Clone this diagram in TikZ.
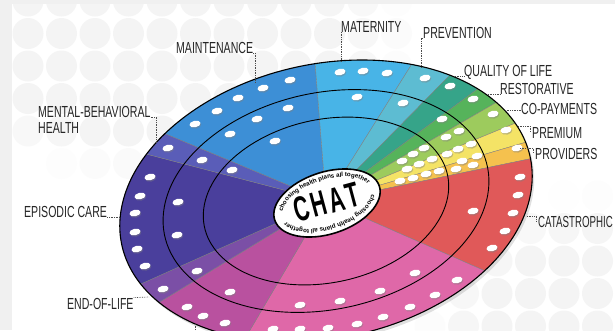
\documentclass[tikz,border=0pt]{standalone}
\usepackage{fontspec}
\usepackage{tikz}
\usetikzlibrary{calc, positioning, decorations.text}
\newfontfamily\lblfont[FakeStretch=0.66]{Liberation Sans}
\newfontfamily\chatfont[FakeStretch=0.6]{Liberation Sans}
\newfontfamily\ringfont{Liberation Sans}
\definecolor{maintenance}{HTML}{3D8FD6}
\definecolor{mental}{HTML}{5A5DB8}
\definecolor{episodic}{HTML}{4A3F9C}
\definecolor{endoflife}{HTML}{7B4FA6}
\definecolor{magentaseg}{HTML}{B9519F}
\definecolor{pinkseg}{HTML}{DF68A8}
\definecolor{catastrophic}{HTML}{E05959}
\definecolor{providers}{HTML}{F5C14E}
\definecolor{premium}{HTML}{F4E366}
\definecolor{copay}{HTML}{9DCB5D}
\definecolor{restorative}{HTML}{56B35B}
\definecolor{qol}{HTML}{36A489}
\definecolor{prevention}{HTML}{5DBCD2}
\definecolor{maternity}{HTML}{48B4E7}

\begin{document}
\begin{tikzpicture}[x=1pt, y=-1pt,
    leader/.style={densely dotted, line width=0.7pt, black!70},
    ring/.style={line width=0.9pt, black},
    sector/.style={draw=black!50, line width=0.35pt},
    pill/.style={white, rotate=12}]
  \tikzstyle{lbl}=[font=\lblfont\fontsize{16}{18}\selectfont, text=black!85, inner sep=0pt]
  \useasboundingbox (0,0) rectangle (615,330);
  \clip (0,0) rectangle (615,330);
  \fill[white] (0,0) rectangle (615,330);
  % background dots
  \foreach \i in {0,...,18}
    \foreach \j in {0,...,10} {
      \pgfmathsetmacro\cx{28+33.5*\i}
      \pgfmathsetmacro\cy{1+32.5*\j}
      \pgfmathsetmacro\wa{1-((\cx-160)/260)*((\cx-160)/260)-((\cy-40)/140)*((\cy-40)/140)}
      \pgfmathsetmacro\wb{1-((\cx-600)/180)*((\cx-600)/180)-((\cy-330)/140)*((\cy-330)/140)}
      \pgfmathsetmacro\wt{min(0.38,0.7*max(0,max(\wa,\wb)))}
      \fill[gray!22, opacity=\wt] (\cx,\cy) circle[radius=15.5pt];
    }
  \fill[black!6] (0,0) rectangle (12,330);
  \fill[black!6] (12,0) rectangle (615,4);

  \coordinate (O) at (326,201);
  \foreach \n/\px/\py in {1/315/62, 2/410/67, 3/448/77, 4/479/88, 5/497/102, 6/518/122, 7/530/141,
      8/534/158, 9/483/270, 10/250/330, 11/163/300, 12/143/283, 13/150/155, 14/168/135}
    \coordinate (b\n) at ($(O)!2.5!(\px,\py)$);

  % wheel
  \fill[black, opacity=0.12, shift={(328,204)}, xslant=0.256] (0,0) ellipse[x radius=203pt, y radius=141pt];
  \begin{scope}
    \clip[shift={(O)}, xslant=0.256] (0,0) ellipse[x radius=203pt, y radius=141pt];
    \foreach \a/\b/\c in {b14/b1/maintenance, b1/b2/maternity, b2/b3/prevention, b3/b4/qol,
        b4/b5/restorative, b5/b6/copay, b6/b7/premium, b7/b8/providers, b8/b9/catastrophic,
        b9/b10/pinkseg, b10/b11/magentaseg, b11/b12/endoflife, b12/b13/episodic, b13/b14/mental}
      \fill[fill=\c, sector] (O) -- (\a) -- (\b) -- cycle;
  \end{scope}
  \begin{scope}[shift={(O)}, xslant=0.256]
    \draw[ring] (0,0) ellipse[x radius=160.4pt, y radius=111.4pt];
    \draw[ring] (0,0) ellipse[x radius=120.8pt, y radius=83.9pt];
    \draw[ring, line width=1.1pt] (0,0) ellipse[x radius=203pt, y radius=141pt];
  \end{scope}

  % white pills
  \foreach \x/\y in {340/72, 363/71, 387/73, 425/78, 450/86, 473/99, 493/114, 506/130, 517/148,
      520/177, 518/195, 513/213, 505/231, 492/248, 457/280, 435/295, 410/307, 383/317, 357/324,
      328/328, 300/329, 273/329, 225/323, 203/316, 187/307, 163/289, 145/266, 137/249, 135/232,
      135/213, 140/196, 150/177, 168/148, 195/124, 217/111, 238/98, 263/88, 290/80,
      357/97, 403/103, 442/119, 446/137, 459/131, 471/144, 458/149, 447/154, 477/156, 462/161,
      473/165, 456/169, 473/211, 415/273, 380/291, 340/301, 300/305, 230/292, 197/271, 177/235,
      178/202, 202/160, 230/134, 257/119, 288/108,
      275/141, 232/170, 424/148, 413/154, 402/161, 432/159, 419/164, 407/169, 439/171, 426/174,
      413/178, 400/181} {
    \fill[shift={(\x+0.8,\y+1.3)}, pill, black!50, opacity=0.45] (0,0) ellipse[x radius=5.6pt, y radius=3.3pt];
    \fill[shift={(\x,\y)}, pill] (0,0) ellipse[x radius=5.6pt, y radius=3.3pt];
  }

  % CHAT badge
  \begin{scope}[shift={(327,203)}, rotate=18]
    \filldraw[fill=white, draw=black, line width=1.6pt] (0,0) ellipse[x radius=55pt, y radius=31pt];
    \path[decorate, decoration={text along path, text align=center,
        text={|\ringfont\bfseries\fontsize{6.2}{7}\selectfont|choosing health plans all together}}]
      (180:46pt and 23pt) arc[start angle=180, end angle=0, x radius=46pt, y radius=23pt];
    \path[decorate, decoration={text along path, text align=center,
        text={|\ringfont\bfseries\fontsize{6.2}{7}\selectfont|choosing health plans all together}}]
      (0:46pt and 23pt) arc[start angle=0, end angle=-180, x radius=46pt, y radius=23pt];
    \node[font=\chatfont\bfseries\fontsize{35}{35}\selectfont, inner sep=0pt, rotate=15] (chat) at (0,-1) {C\kern3pt H\kern3pt A\kern3pt T};
  \end{scope}

  % labels
  \node[lbl, anchor=base west] (maint) at (176,53) {MAINTENANCE};
  \node[lbl, anchor=base west] (mental) at (38,117) {MENTAL-BEHAVIORAL};
  \node[lbl, below=4.5pt of mental.south west, anchor=north west] (health) {HEALTH};
  \node[lbl, anchor=base west] (matern) at (341,32) {MATERNITY};
  \node[lbl, anchor=base west] (prev) at (423,38) {PREVENTION};
  \node[lbl, anchor=base west] (qol) at (464,76) {QUALITY OF LIFE};
  \node[lbl, anchor=base west] (rest) at (500,94) {RESTORATIVE};
  \node[lbl, anchor=base west] (copay) at (521,114) {CO-PAYMENTS};
  \node[lbl, anchor=base west] (prem) at (532,138) {PREMIUM};
  \node[lbl, anchor=base west] (prov) at (535,159) {PROVIDERS};
  \node[lbl, anchor=base west, xscale=0.92] (cata) at (538,227) {CATASTROPHIC};
  \node[lbl, anchor=base west] (epis) at (24,217) {EPISODIC CARE};
  \node[lbl, anchor=base west] (eol) at (67,309) {END-OF-LIFE};

  \coordinate (maintrim) at (255,82);
  \coordinate (mentalrim) at (156,143);
  \coordinate (materrim) at (341,62);
  \coordinate (prevrim) at (421,68);
  \coordinate (qolrim) at (455,76);
  \coordinate (restrim) at (488,94);
  \coordinate (copayrim) at (505,110);
  \coordinate (premrim) at (518,126);
  \coordinate (provrim) at (520,148);
  \coordinate (catarim) at (527,216);
  \coordinate (episrim) at (120,217);
  \coordinate (eolrim) at (149,297);
  \coordinate (lowrim) at (195,324);

  \draw[leader] (maint.base east) -| (maintrim);
  \draw[leader] (mental.base east) -| (mentalrim);
  \draw[leader] (matern.base west) -- (materrim);
  \draw[leader] (prev.base west) -| (prevrim);
  \draw[leader] (qolrim) -- (qol.base west);
  \draw[leader] (restrim) -- (rest.base west);
  \draw[leader] (copayrim) -- (copayrim -| copay.west);
  \draw[leader] (premrim) -| ([shift={(-2,5)}]prem.north west);
  \draw[leader] (provrim) -| ([shift={(-2,5)}]prov.north west);
  \draw[leader] (catarim) -| ([shift={(-2,6)}]cata.north west);
  \draw[leader] (epis.base east) -- (episrim);
  \draw[leader] (eol.north east) -- (eolrim);
  \draw[leader] (lowrim) -- ++(0,10);
\end{tikzpicture}
\end{document}
